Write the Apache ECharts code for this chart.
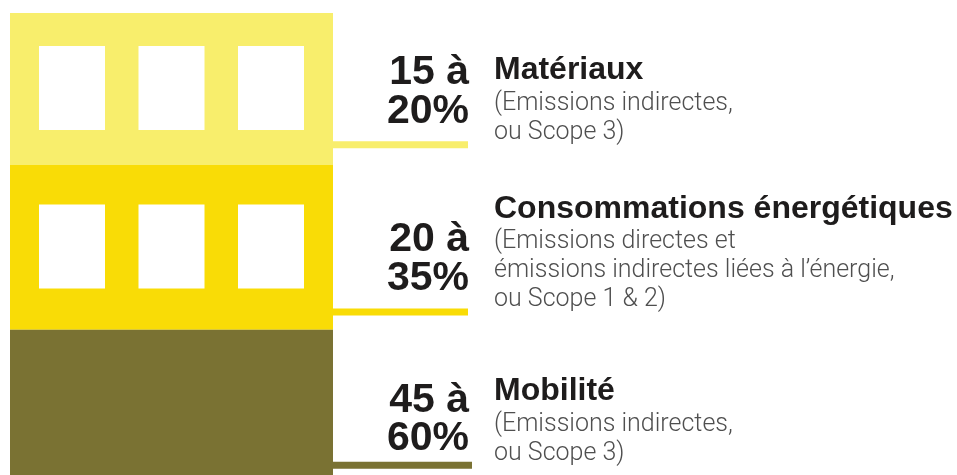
<!DOCTYPE html>
<html>
<head>
<meta charset="utf-8">
<script src="https://cdn.jsdelivr.net/npm/echarts@6/dist/echarts.min.js"></script>
<style>
    html, body { margin: 0; padding: 0; background: #ffffff; }
    #chartMain { width: 957px; height: 475px; }
</style>
</head>
<body>
<div id="chartMain"></div>
<script>
    // postes d'emissions, du haut vers le bas du batiment
    const categories = ['Matériaux', 'Consommations énergétiques', 'Mobilité'];
    const shareLow = [15, 20, 45];
    const shareHigh = [20, 35, 60];
    const notes = [
        ['(Emissions indirectes,', 'ou Scope 3)'],
        ['(Emissions directes et', 'émissions indirectes liées à l’énergie,', 'ou Scope 1 & 2)'],
        ['(Emissions indirectes,', 'ou Scope 3)']
    ];
    const windowsPerFloor = [3, 3, 0];

    // mise en page / styles
    const floorColors = ['#f8ee6c', '#f9dc06', '#7a7233'];
    const leaderOffset = [0.877, 0.891, 0.821];   // position du trait dans l'etage (fraction)
    const numberGap = [19, 19, 12];                // ecart chiffres / trait
    const visibleFloors = 2.88;                     // le rez-de-chaussee est coupe
    const roofInset = 13;
    const darkText = '#1e1c1c';
    const greyText = '#4f4f4f';

    let myChart = echarts.init(document.getElementById('chartMain'), null, { renderer: 'canvas' });

    function renderFloor(params, api) {
        let i = api.value(1);
        let tl = api.coord([0, i]);
        let br = api.coord([1, i + 1]);
        let x0 = tl[0], x1 = br[0];
        let bandTop = tl[1];
        let bandH = br[1] - tl[1];
        let top = i === 0 ? bandTop + roofInset : bandTop;
        let bottom = br[1];
        let color = floorColors[i];
        let children = [];

        children.push({
            type: 'rect',
            shape: { x: x0, y: top, width: x1 - x0, height: bottom - top },
            style: { fill: color }
        });

        // fenetres
        let n = windowsPerFloor[i];
        if (n > 0) {
            let w = 66, h = 84, margin = 29;
            let gap = (x1 - x0 - 2 * margin - n * w) / (n - 1);
            let wy = (top + bottom) / 2 - h / 2 - 1;
            for (let k = 0; k < n; k++) {
                children.push({
                    type: 'rect',
                    shape: { x: x0 + margin + k * (w + gap), y: wy, width: w, height: h },
                    style: { fill: '#ffffff' }
                });
            }
        }

        // trait de rappel
        let L = bandTop + bandH * leaderOffset[i];
        children.push({
            type: 'rect',
            shape: { x: x1, y: L - 3.5, width: i === 2 ? 139 : 135, height: 7 },
            style: { fill: color }
        });

        // bloc de texte
        let lines = notes[i];
        let lastBase = L - 3;
        let subFs = 25, titleFs = 32, numFs = 41;
        lines.forEach((txt, k) => {
            let base = lastBase - 29 * (lines.length - 1 - k);
            children.push({
                type: 'text',
                style: {
                    x: x1 + 161, y: base - 0.35 * subFs,
                    text: txt,
                    fill: greyText,
                    font: '300 ' + subFs + 'px Roboto',
                    align: 'left', verticalAlign: 'middle'
                }
            });
        });
        let titleBase = lastBase - 29 * (lines.length - 1) - 31;
        children.push({
            type: 'text',
            style: {
                x: x1 + 161, y: titleBase - 0.35 * titleFs,
                text: categories[i],
                fill: darkText,
                font: 'bold ' + titleFs + 'px "Liberation Sans"',
                align: 'left', verticalAlign: 'middle'
            }
        });

        // fourchette en pourcentage
        let numBase = L - numberGap[i];
        [shareLow[i] + ' à', shareHigh[i] + '%'].forEach((txt, k) => {
            let base = numBase - 38.5 * (1 - k);
            children.push({
                type: 'text',
                style: {
                    x: x1 + 136, y: base - 0.35 * numFs,
                    text: txt,
                    fill: darkText,
                    font: 'bold ' + numFs + 'px "Liberation Sans"',
                    align: 'right', verticalAlign: 'middle'
                }
            });
        });

        return { type: 'group', children: children };
    }

    myChart.setOption({
        animation: false,
        backgroundColor: '#ffffff',
        grid: { left: 10, top: 0, width: 323, height: 475 },
        xAxis: { type: 'value', min: 0, max: 1, show: false },
        yAxis: { type: 'value', min: 0, max: visibleFloors, inverse: true, show: false },
        series: [{
            type: 'custom',
            renderItem: renderFloor,
            encode: { x: 0, y: 1 },
            data: categories.map((c, i) => [0, i])
        }]
    });
</script>
</body>
</html>
